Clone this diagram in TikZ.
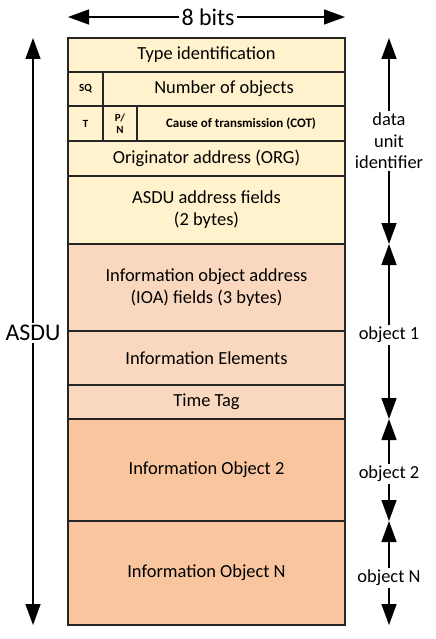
\documentclass[tikz,border=0pt]{standalone}
\usepackage{fontspec}
\setmainfont{Carlito}
\usepackage{tikz}
\usetikzlibrary{arrows.meta, positioning}

\definecolor{duifill}{HTML}{FFF2CC}
\definecolor{objfill}{HTML}{FAD8BF}
\definecolor{morefill}{HTML}{F8C59F}

\begin{document}
\begin{tikzpicture}[
    x=1bp, y=-1bp,
    field/.style={rectangle, draw=black!85, line width=1.2bp, outer sep=0pt, inner sep=1bp, minimum width=277bp, text centered, align=center, anchor=north west, font=\fontsize{18.5}{22}\selectfont},
    dui/.style={field, fill=duifill},
    obj/.style={field, fill=objfill},
    more/.style={field, fill=morefill},
    flag/.style={font=\bfseries\fontsize{11}{11}\selectfont},
    side/.style={align=center, inner sep=2bp, font=\fontsize{18.5}{21.5}\selectfont},
    big/.style={inner sep=2bp, font=\fontsize{24}{26}\selectfont},
    arrow/.style={line width=1.4bp, -{Triangle[length=21bp, width=15bp]}},
]
    \useasboundingbox (0,0) rectangle (436,639);

    % data unit identifier
    \node (type) [dui, minimum height=34bp] at (68,38) {Type identification};
    \node (sq) [dui, flag, minimum width=35bp, minimum height=34bp] at (type.south west) {SQ};
    \node (numobj) [dui, minimum width=242bp, minimum height=34bp, right=0pt of sq.north east, anchor=north west] {Number of objects};
    \node (t) [dui, flag, minimum width=35bp, minimum height=35bp] at (sq.south west) {T};
    \node (pn) [dui, flag, minimum width=34bp, minimum height=35bp, font=\bfseries\fontsize{11}{12}\selectfont] at (t.north east) {P/\\N};
    \node (cot) [dui, minimum width=208bp, minimum height=35bp, font=\bfseries\fontsize{13}{14}\selectfont] at (pn.north east) {Cause of transmission (COT)};
    \node (org) [dui, minimum height=35bp] at (t.south west) {Originator address (ORG)};
    \node (addr) [dui, minimum height=68bp] at (org.south west) {ASDU address fields\\(2 bytes)};

    % information objects
    \node (ioa) [obj, minimum height=87bp] at (addr.south west) {Information object address\\(IOA) fields (3 bytes)};
    \node (elems) [obj, minimum height=54bp] at (ioa.south west) {Information Elements};
    \node (tag) [obj, minimum height=34bp] at (elems.south west) {Time Tag};
    \node (io2) [more, minimum height=102bp] at (tag.south west) {Information Object 2};
    \node (ion) [more, minimum height=104bp] at (io2.south west) {Information Object N};

    % width and length
    \node (bits) [big] at (208,17) {8 bits};
    \coordinate (bits_l) at (type.north west |- bits);
    \coordinate (bits_r) at (type.north east |- bits);
    \draw [arrow] (bits) -- (bits_l);
    \draw [arrow] (bits) -- (bits_r);

    \node (asdu) [big] at (33,333) {ASDU};
    \coordinate (asdu_t) at (asdu |- type.north);
    \coordinate (asdu_b) at (asdu |- ion.south);
    \draw [arrow] (asdu) -- (asdu_t);
    \draw [arrow] (asdu) -- (asdu_b);

    % right hand labels
    \node (lab_dui) [side] at (389,141) {data\\unit\\identifier};
    \node (lab_o1) [side] at (389,335) {object 1};
    \node (lab_o2) [side] at (389,474) {object 2};
    \node (lab_on) [side] at (389,578) {object N};

    \coordinate (tip_a) at (lab_dui |- type.north);
    \coordinate (tip_b) at (lab_dui |- ioa.north);
    \coordinate (tip_c) at (lab_dui |- io2.north);
    \coordinate (tip_d) at (lab_dui |- ion.north);
    \coordinate (tip_e) at (lab_dui |- ion.south);

    \draw [arrow] (lab_dui) -- (tip_a);
    \draw [arrow] (lab_dui) -- (tip_b);
    \draw [arrow] (lab_o1) -- (tip_b);
    \draw [arrow] (lab_o1) -- (tip_c);
    \draw [arrow] (lab_o2) -- (tip_c);
    \draw [arrow] (lab_o2) -- (tip_d);
    \draw [arrow] (lab_on) -- (tip_d);
    \draw [arrow] (lab_on) -- (tip_e);

\end{tikzpicture}
\end{document}
